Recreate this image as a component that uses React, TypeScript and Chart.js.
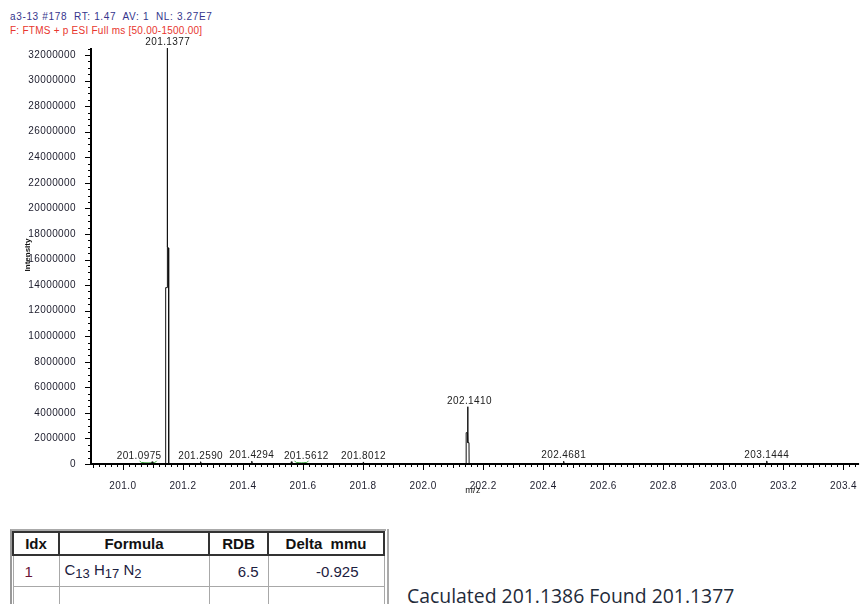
import React, { useEffect, useRef } from "react";
import { Chart, registerables } from "chart.js";

Chart.register(...registerables);

// ---- Data ----
// profile trace as drawn
const profileMz = [
  200.9, 201.0955, 201.0975, 201.0995,
  201.142, 201.1426, 201.1478, 201.148, 201.1483, 201.1487, 201.1522, 201.1526,
  201.257, 201.259, 201.261,
  201.4274, 201.4294, 201.4314,
  201.5592, 201.5612, 201.5632,
  201.7992, 201.8012, 201.8032,
  202.143, 202.1434, 202.148, 202.1486, 202.1492, 202.1528, 202.1532,
  202.4661, 202.4681, 202.4701,
  203.1424, 203.1444, 203.1464,
  203.45,
];
const profileIntensity = [
  0, 0, 180000, 0,
  0, 13800000, 13800000, 13900000, 32700000, 17000000, 16900000, 0,
  0, 180000, 0,
  0, 220000, 0,
  0, 180000, 0,
  0, 160000, 0,
  0, 2450000, 2450000, 4480000, 1670000, 1670000, 0,
  0, 220000, 0,
  0, 240000, 0,
  0,
];

// labelled centroid peaks
const peakMz = [201.0975, 201.1377, 201.259, 201.4294, 201.5612, 201.8012, 202.141, 202.4681, 203.1444];
const peakIntensity = [180000, 32700000, 180000, 220000, 180000, 160000, 4480000, 220000, 240000];
const peakLabels = ["201.0975", "201.1377", "201.2590", "201.4294", "201.5612", "201.8012", "202.1410", "202.4681", "203.1444"];

const noiseMz = [201.0565, 201.062, 201.106, 201.113, 201.3, 201.572, 201.578, 201.612, 201.618];
const noiseIntensity = [250000, 120000, 120000, 250000, null, 250000, 120000, 120000, 250000];

const xTickValues = [201.0, 201.2, 201.4, 201.6, 201.8, 202.0, 202.2, 202.4, 202.6, 202.8, 203.0, 203.2, 203.4];
const yTickValues = [
  0, 2000000, 4000000, 6000000, 8000000, 10000000, 12000000, 14000000, 16000000,
  18000000, 20000000, 22000000, 24000000, 26000000, 28000000, 30000000, 32000000,
];

const X_MIN = 200.8939;
const X_MAX = 203.452;
const Y_MAX = 32550000;

const FONT = '"Liberation Sans", Arial, sans-serif';
const TICK_COLOR = "#1c1c2c";

// pixel nudges of label text relative to the peak position
const labelShift: Record<number, number> = { 0: -13, 1: 3.5, 4: 15, 6: 4 };

const spacingPlugin = {
  id: "letterSpacing",
  beforeDraw(chart: any) {
    chart.ctx.letterSpacing = "0.4px";
  },
};

const axisPlugin = {
  id: "axisDraw",
  afterDraw(chart: any) {
    const { ctx, chartArea, scales } = chart;
    const xs = scales.x;
    const ys = scales.y;
    const axisX = chartArea.left;
    const axisY = chartArea.bottom;
    ctx.save();
    ctx.strokeStyle = "#000";
    ctx.lineWidth = 1;
    ctx.beginPath();
    const kx0 = Math.ceil(X_MIN / 0.02);
    const kx1 = Math.floor(X_MAX / 0.02);
    for (let k = kx0; k <= kx1; k++) {
      const px = Math.round(xs.getPixelForValue(k * 0.02)) + 0.5;
      const len = k % 10 === 0 ? 6 : k % 5 === 0 ? 4 : 3;
      ctx.moveTo(px, axisY);
      ctx.lineTo(px, axisY + len);
    }
    const ky1 = Math.floor(Y_MAX / 500000);
    for (let k = 0; k <= ky1; k++) {
      const py = Math.round(ys.getPixelForValue(k * 500000)) + 0.5;
      const len = k % 4 === 0 ? 6 : 3;
      ctx.moveTo(axisX, py);
      ctx.lineTo(axisX - len, py);
    }
    ctx.stroke();
    ctx.lineWidth = 2;
    ctx.beginPath();
    ctx.moveTo(axisX, chartArea.top);
    ctx.lineTo(axisX, axisY + 1);
    ctx.moveTo(axisX - 1, axisY);
    ctx.lineTo(chartArea.right, axisY);
    ctx.stroke();

    ctx.fillStyle = "#111";
    ctx.textAlign = "center";
    ctx.textBaseline = "middle";
    ctx.font = `9px ${FONT}`;
    ctx.fillText("m/z", 473, 491);
    ctx.save();
    ctx.translate(28, 255);
    ctx.rotate(-Math.PI / 2);
    ctx.letterSpacing = "0px";
    ctx.font = `bold 8px ${FONT}`;
    ctx.fillText("Intensity", 0, 0);
    ctx.restore();
    ctx.restore();
  },
};

const peakLabelPlugin = {
  id: "peakLabels",
  afterDatasetsDraw(chart: any) {
    const { ctx, scales } = chart;
    ctx.save();
    ctx.font = `10px ${FONT}`;
    ctx.fillStyle = "#222";
    ctx.textAlign = "center";
    ctx.textBaseline = "alphabetic";
    peakMz.forEach((mz, i) => {
      const px = scales.x.getPixelForValue(mz) + (labelShift[i] || 0);
      const py = Math.max(scales.y.getPixelForValue(peakIntensity[i]), scales.y.getPixelForValue(Y_MAX));
      ctx.fillText(peakLabels[i], px, py - 3);
    });
    ctx.restore();
  },
};

function SpectrumChart() {
  const ref = useRef<HTMLCanvasElement>(null);
  useEffect(() => {
    if (!ref.current) return;
    const chart = new Chart(ref.current, {
      type: "line",
      data: {
        datasets: [
          {
            data: profileMz.map((x, i) => ({ x, y: profileIntensity[i] })),
            borderColor: "#111",
            borderWidth: 1,
            pointRadius: 0,
            tension: 0,
            fill: false,
          },
          {
            data: noiseMz.map((x, i) => ({ x, y: noiseIntensity[i] })),
            borderColor: "#3aa63a",
            borderWidth: 1,
            pointRadius: 0,
            tension: 0.4,
            fill: false,
            spanGaps: false,
          },
        ],
      },
      options: {
        animation: false,
        responsive: false,
        maintainAspectRatio: false,
        layout: { padding: { top: 48, right: 1, left: 0, bottom: 0 } },
        plugins: { legend: { display: false }, tooltip: { enabled: false } },
        scales: {
          x: {
            type: "linear",
            min: X_MIN,
            max: X_MAX,
            bounds: "data",
            grid: { display: false },
            border: { display: false },
            afterBuildTicks: (s: any) => {
              s.ticks = xTickValues.map((v) => ({ value: v }));
            },
            afterFit: (s: any) => {
              s.height = 36;
            },
            ticks: {
              autoSkip: false,
              maxRotation: 0,
              minRotation: 0,
              padding: 8,
              color: TICK_COLOR,
              font: { family: FONT, size: 10 },
              callback: (v: any) => Number(v).toFixed(1),
            },
          },
          y: {
            type: "linear",
            min: 0,
            max: Y_MAX,
            bounds: "data",
            grid: { display: false },
            border: { display: false },
            afterBuildTicks: (s: any) => {
              s.ticks = yTickValues.map((v) => ({ value: v }));
            },
            afterFit: (s: any) => {
              s.width = 91;
            },
            ticks: {
              autoSkip: false,
              padding: 7,
              color: TICK_COLOR,
              font: { family: FONT, size: 10 },
              callback: (v: any) => String(v),
            },
          },
        },
      },
      plugins: [spacingPlugin, axisPlugin, peakLabelPlugin],
    } as any);
    return () => chart.destroy();
  }, []);
  return (
    <canvas
      ref={ref}
      width={864}
      height={500}
      style={{ position: "absolute", left: 0, top: 0, width: 864, height: 500 }}
    />
  );
}

const thStyle: React.CSSProperties = {
  border: "2px solid #333",
  font: `bold 15px ${FONT}`,
  color: "#111",
  textAlign: "center",
  height: 21,
  padding: 0,
  background: "#fff",
};
const tdStyle: React.CSSProperties = {
  borderLeft: "1px solid #a8a8a8",
  borderRight: "1px solid #a8a8a8",
  borderBottom: "1px solid #a8a8a8",
  font: `15px ${FONT}`,
  color: "#1c2040",
  height: 30,
  padding: 0,
};
const subStyle: React.CSSProperties = { fontSize: 13, position: "relative", top: 3 };

export default function App() {
  return (
    <div
      style={{
        position: "absolute",
        left: 0,
        top: 0,
        width: 864,
        height: 604,
        overflow: "hidden",
        background: "#fff",
      }}
    >
      <div
        style={{
          position: "absolute",
          left: 10,
          top: 11,
          font: `10px ${FONT}`,
          lineHeight: "12px",
          letterSpacing: "0.65px",
          color: "#35358c",
          whiteSpace: "pre",
        }}
      >
        {"a3-13 #178  RT: 1.47  AV: 1  NL: 3.27E7"}
      </div>
      <div
        style={{
          position: "absolute",
          left: 10,
          top: 25,
          font: `10px ${FONT}`,
          lineHeight: "12px",
          letterSpacing: "0.25px",
          color: "#e8362e",
          whiteSpace: "pre",
        }}
      >
        {"F: FTMS + p ESI Full ms [50.00-1500.00]"}
      </div>
      <SpectrumChart />
      <div
        style={{
          position: "absolute",
          left: 10,
          top: 529,
          width: 376,
          height: 80,
          borderLeft: "2px solid #999",
          borderTop: "2px solid #aaa",
          boxSizing: "border-box",
        }}
      />
      <div
        style={{
          position: "absolute",
          left: 387,
          top: 529,
          width: 2,
          height: 80,
          background: "#aaa",
        }}
      />
      <table
        style={{
          position: "absolute",
          left: 12,
          top: 531,
          borderCollapse: "collapse",
          tableLayout: "fixed",
          width: 371,
        }}
      >
        <colgroup>
          <col style={{ width: 46 }} />
          <col style={{ width: 150 }} />
          <col style={{ width: 59 }} />
          <col style={{ width: 116 }} />
        </colgroup>
        <thead>
          <tr>
            <th style={thStyle}>Idx</th>
            <th style={thStyle}>Formula</th>
            <th style={thStyle}>RDB</th>
            <th style={{ ...thStyle, whiteSpace: "pre" }}>{"Delta  mmu"}</th>
          </tr>
        </thead>
        <tbody>
          <tr>
            <td style={{ ...tdStyle, color: "#6a1538", paddingLeft: 11 }}>1</td>
            <td style={{ ...tdStyle, paddingLeft: 5, verticalAlign: "middle" }}>
              <span style={{ position: "relative", top: -2 }}>
                C<span style={subStyle}>13</span> H<span style={subStyle}>17</span> N<span style={subStyle}>2</span>
              </span>
            </td>
            <td style={{ ...tdStyle, textAlign: "right", paddingRight: 9 }}>6.5</td>
            <td style={{ ...tdStyle, textAlign: "right", paddingRight: 25 }}>-0.925</td>
          </tr>
          <tr>
            <td style={tdStyle}></td>
            <td style={tdStyle}></td>
            <td style={tdStyle}></td>
            <td style={tdStyle}></td>
          </tr>
        </tbody>
      </table>
      <div
        style={{
          position: "absolute",
          left: 407,
          top: 583,
          font: `19.4px "Open Sans", sans-serif`,
          lineHeight: "26px",
          color: "#1f2b3a",
          whiteSpace: "pre",
        }}
      >
        {"Caculated 201.1386 Found 201.1377"}
      </div>
    </div>
  );
}
